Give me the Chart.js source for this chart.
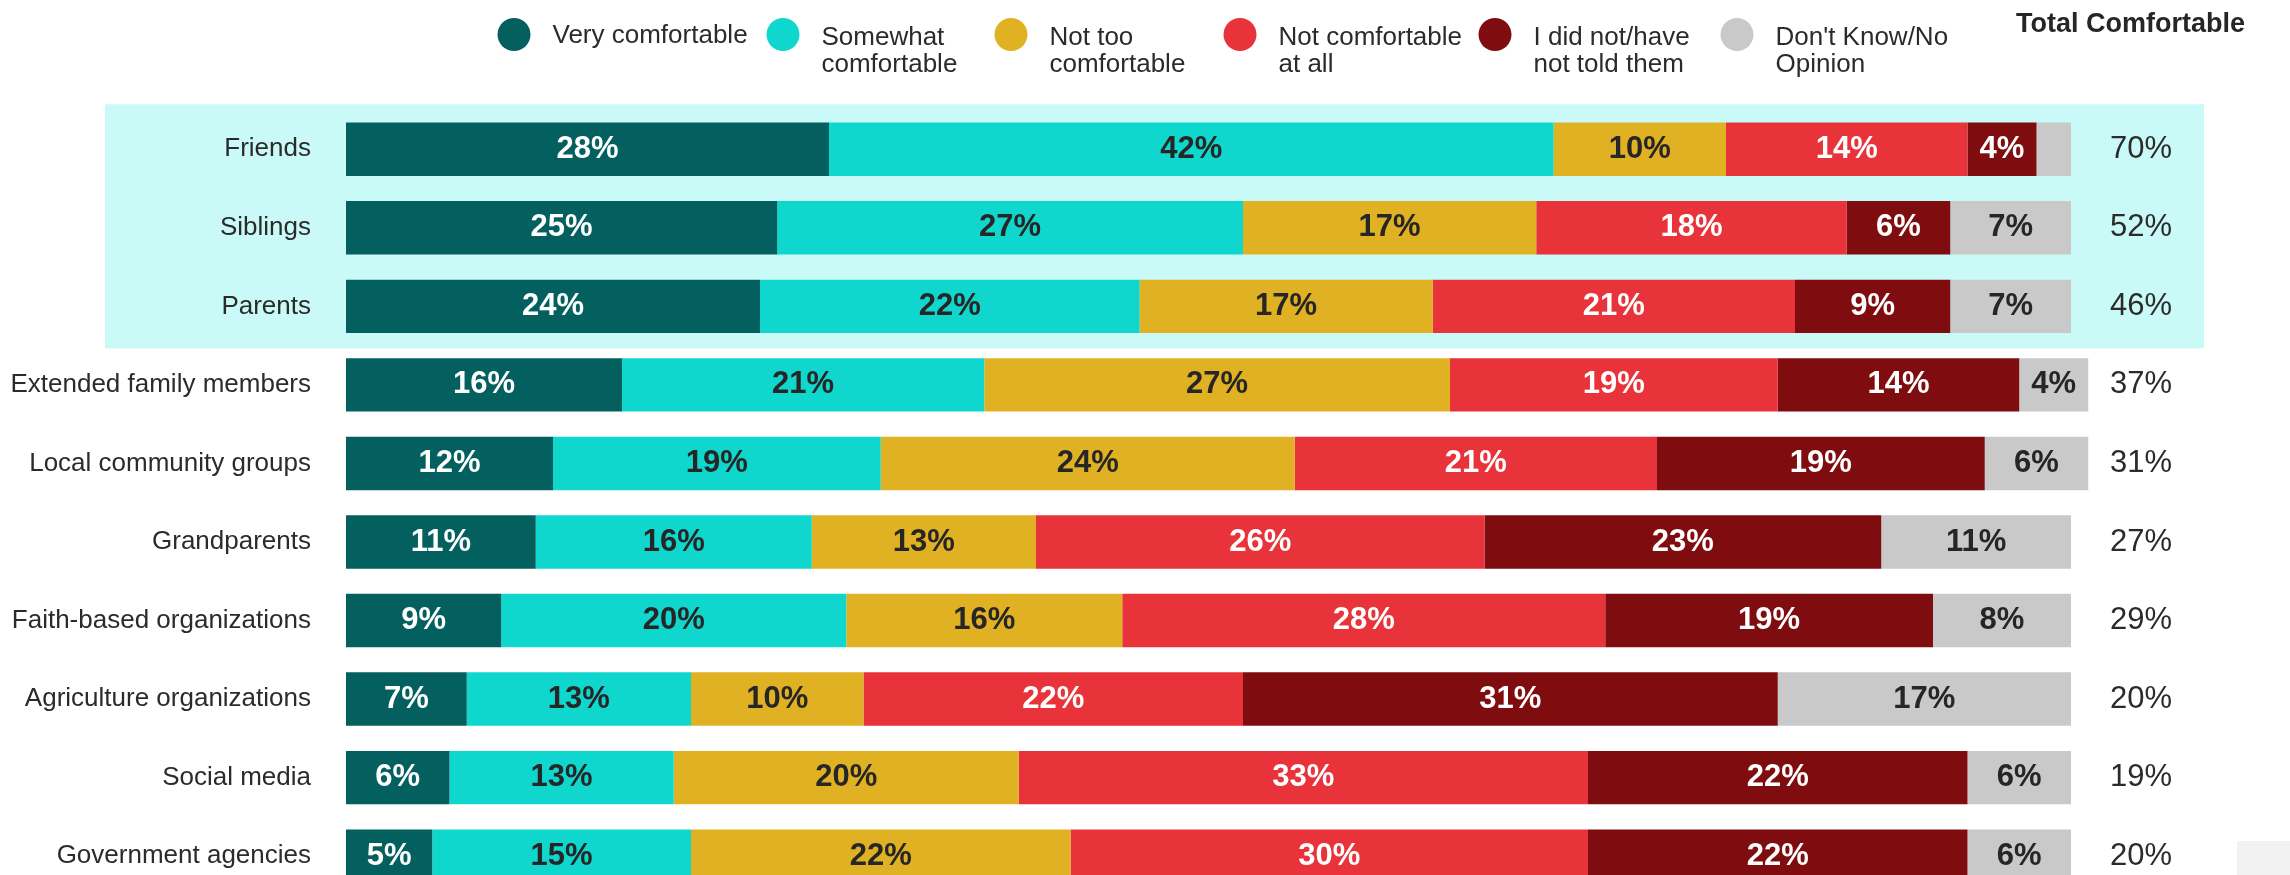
<!DOCTYPE html>
<html>
<head>
<meta charset="utf-8">
<script src="https://cdn.jsdelivr.net/npm/chart.js@4/dist/chart.umd.min.js"></script>
<style>
  html, body { margin: 0; padding: 0; background: #fff; overflow: hidden; }
  #wrap { position: relative; width: 2290px; height: 875px; overflow: hidden; }
  /* 마지막 행은 아래로 잘려 보이도록 캔버스를 화면보다 길게 잡는다 */
  #box { position: absolute; left: 0; top: 0; width: 2290px; height: 911px; }
  #corner { position: absolute; left: 2237px; top: 841px; width: 53px; height: 34px; background: #f2f2f2; }
</style>
</head>
<body>
<div id="wrap">
  <div id="box"><canvas id="chart"></canvas></div>
  <div id="corner"></div>
</div>
<script>
// 응답 대상(행)과 응답 구간(시리즈)별 비율 (%)
const CATEGORIES = [
  'Friends', 'Siblings', 'Parents', 'Extended family members', 'Local community groups',
  'Grandparents', 'Faith-based organizations', 'Agriculture organizations', 'Social media', 'Government agencies',
];
const SERIES_LABELS = [
  ['Very comfortable'],
  ['Somewhat', 'comfortable'],
  ['Not too', 'comfortable'],
  ['Not comfortable', 'at all'],
  ['I did not/have', 'not told them'],
  ["Don't Know/No", 'Opinion'],
];
const VERY_COMFORTABLE     = [28, 25, 24, 16, 12, 11, 9, 7, 6, 5];
const SOMEWHAT_COMFORTABLE = [42, 27, 22, 21, 19, 16, 20, 13, 13, 15];
const NOT_TOO_COMFORTABLE  = [10, 17, 17, 27, 24, 13, 16, 10, 20, 22];
const NOT_COMFORTABLE      = [14, 18, 21, 19, 21, 26, 28, 22, 33, 30];
const NOT_TOLD             = [4, 6, 9, 14, 19, 23, 19, 31, 22, 22];
const DONT_KNOW            = [2, 7, 7, 4, 6, 11, 8, 17, 6, 6];
const TOTAL_COMFORTABLE    = [70, 52, 46, 37, 31, 27, 29, 20, 19, 20];
const TOTAL_TITLE = 'Total Comfortable';

const SERIES_DATA = [VERY_COMFORTABLE, SOMEWHAT_COMFORTABLE, NOT_TOO_COMFORTABLE, NOT_COMFORTABLE, NOT_TOLD, DONT_KNOW];
const COLORS = ['#03605f', '#10d7ce', '#e1b124', '#e8333a', '#7f0d10', '#c9c9c9'];
const LABEL_COLORS = ['#ffffff', '#262626', '#262626', '#ffffff', '#ffffff', '#262626'];

const FONT = "'Liberation Sans', Arial, sans-serif";
const TEXT = '#2b2b2b';

/** 상위 3개 행(가족/친구) 뒤에 깔리는 하늘색 강조 박스 — 축 라벨보다 먼저 그린다 */
const highlightPlugin = {
  id: 'highlight',
  beforeDraw(chart) {
    const { ctx, scales: { y } } = chart;
    const top = y.getPixelForValue(0) - 45;
    const bottom = y.getPixelForValue(2) + 42;
    ctx.save();
    ctx.fillStyle = '#c9faf7';
    ctx.fillRect(105, top, 2204 - 105, bottom - top);
    ctx.restore();
  },
};

/** 막대 안 % 라벨 + 오른쪽 Total Comfortable 열 */
const labelPlugin = {
  id: 'barLabels',
  afterDatasetsDraw(chart) {
    const { ctx, scales: { y } } = chart;
    ctx.save();
    ctx.textAlign = 'center';
    ctx.textBaseline = 'middle';
    ctx.font = `bold 31px ${FONT}`;
    chart.data.datasets.forEach((ds, i) => {
      const meta = chart.getDatasetMeta(i);
      ctx.fillStyle = LABEL_COLORS[i];
      meta.data.forEach((bar, j) => {
        const v = ds.data[j];
        if (v < 3) return; // 너무 얇은 조각은 라벨 생략
        const { x, base, y: cy } = bar.getProps(['x', 'base', 'y'], true);
        ctx.fillText(v + '%', (x + base) / 2, cy);
      });
    });

    ctx.font = `31px ${FONT}`;
    ctx.fillStyle = TEXT;
    TOTAL_COMFORTABLE.forEach((v, j) => ctx.fillText(v + '%', 2141, y.getPixelForValue(j)));
    ctx.restore();
  },
};

/** 상단 범례(원형 마커 + 두 줄 텍스트)와 Total 제목 */
const legendPlugin = {
  id: 'topLegend',
  afterDraw(chart) {
    const ctx = chart.ctx;
    const xs = [514, 783, 1011, 1240, 1495, 1737];
    ctx.save();
    ctx.font = `26px ${FONT}`;
    ctx.textAlign = 'left';
    ctx.textBaseline = 'alphabetic';
    SERIES_LABELS.forEach((lines, i) => {
      ctx.fillStyle = COLORS[i];
      ctx.beginPath();
      ctx.arc(xs[i], 34.5, 16.5, 0, Math.PI * 2);
      ctx.fill();
      ctx.fillStyle = TEXT;
      if (lines.length === 1) {
        ctx.fillText(lines[0], xs[i] + 38.5, 42.5);
      } else {
        lines.forEach((line, k) => ctx.fillText(line, xs[i] + 38.5, 45 + k * 27));
      }
    });
    ctx.font = `bold 27px ${FONT}`;
    ctx.fillStyle = '#262626';
    ctx.fillText(TOTAL_TITLE, 2016, 32);
    ctx.restore();
  },
};

new Chart(document.getElementById('chart'), {
  type: 'bar',
  data: {
    labels: CATEGORIES,
    datasets: SERIES_DATA.map((data, i) => ({
      label: SERIES_LABELS[i].join(' '),
      data,
      backgroundColor: COLORS[i],
      borderWidth: 0,
      barPercentage: 0.68,
      categoryPercentage: 1,
      clip: false,
    })),
  },
  options: {
    indexAxis: 'y',
    responsive: true,
    maintainAspectRatio: false,
    animation: false,
    devicePixelRatio: 1,
    layout: { padding: { top: 110, bottom: 5, left: 0, right: 219 } },
    plugins: { legend: { display: false }, tooltip: { enabled: false } },
    scales: {
      x: { stacked: true, min: 0, max: 100, display: false },
      y: {
        stacked: true,
        // 라벨과 막대 사이 간격은 tickLength로 준다 (ticks.padding은 위아래 여백까지 늘린다)
        grid: { display: false, drawTicks: true, tickLength: 35 },
        border: { display: false },
        ticks: { color: TEXT, font: { family: FONT, size: 26 }, padding: 0 },
        afterFit(scale) { scale.width = 346; },
      },
    },
  },
  plugins: [highlightPlugin, labelPlugin, legendPlugin],
});
</script>
</body>
</html>
